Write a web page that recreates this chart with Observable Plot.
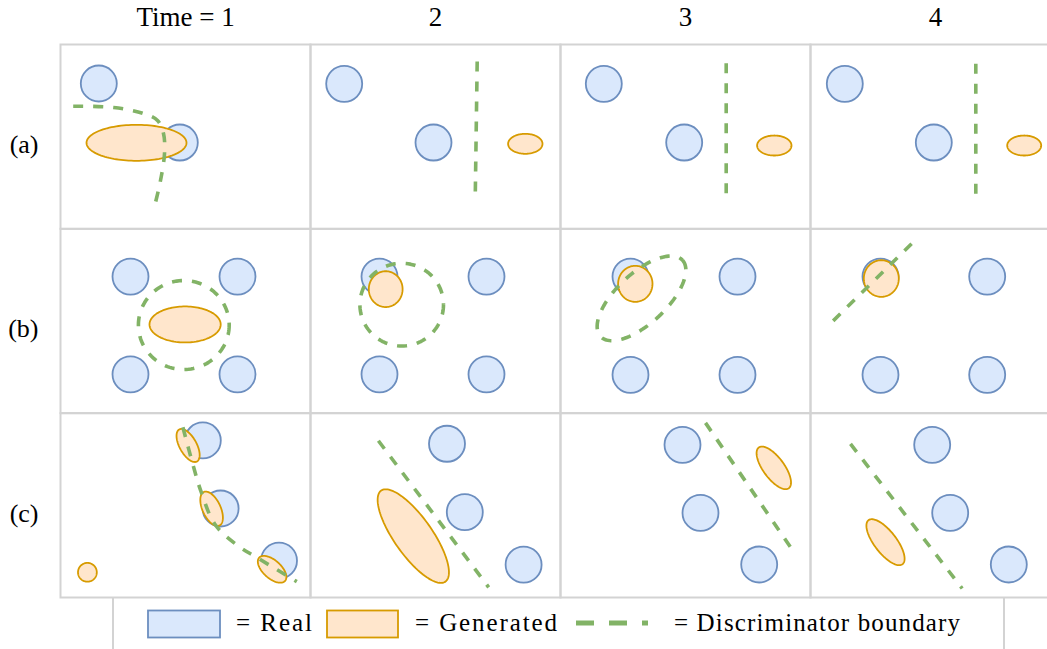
<!DOCTYPE html>
<html>
<head>
<meta charset="utf-8">
<script src="https://cdn.jsdelivr.net/npm/d3@7"></script>
<script src="https://cdn.jsdelivr.net/npm/@observablehq/plot@0.6"></script>
<style>
  html, body { margin: 0; padding: 0; background: #fff; overflow: hidden; }
  #wrap { position: relative; width: 1047px; height: 649px; overflow: hidden; background: #fff; }
  #chart { position: absolute; left: 0; top: 0; }
  #legend { position: absolute; left: 0; top: 0; }
  #legend text { font-family: "Liberation Serif", "DejaVu Serif", serif; }
</style>
</head>
<body>
<div id="wrap">
  <div id="chart"></div>
  <svg id="legend" width="1047" height="649" style="pointer-events:none">
    <line x1="113" y1="598" x2="113" y2="649" stroke="#d3d3d3" stroke-width="2"/>
    <line x1="1004" y1="598" x2="1004" y2="649" stroke="#d3d3d3" stroke-width="2"/>
    <rect x="148" y="610.5" width="72" height="27" fill="#dae8fc" stroke="#6c8ebf" stroke-width="1.8"/>
    <text x="236" y="631" font-size="25" fill="#000" textLength="76" lengthAdjust="spacing">= Real</text>
    <rect x="327" y="610.5" width="71" height="27" fill="#ffe6cc" stroke="#d79b00" stroke-width="1.8"/>
    <text x="415" y="631" font-size="25" fill="#000" textLength="142" lengthAdjust="spacing">= Generated</text>
    <line x1="576" y1="623" x2="648" y2="623" stroke="#82b366" stroke-width="5" stroke-dasharray="18 15"/>
    <text x="674" y="631" font-size="25" fill="#000" textLength="286" lengthAdjust="spacing">= Discriminator boundary</text>
  </svg>
</div>
<script>
// ---- facets ----
const rows = ["a", "b", "c"];
const times = [1, 2, 3, 4];
const timeLabels = ["Time = 1", "2", "3", "4"];
const rowLabels = ["(a)", "(b)", "(c)"];

// ---- real samples: circle centres (panel units, 25 across × 18.43 down) ----
const real = [
  {row: "a", time: 1, x: 3.83, y: 3.90}, {row: "a", time: 1, x: 11.93, y: 9.80},
  {row: "a", time: 2, x: 3.37, y: 3.93}, {row: "a", time: 2, x: 12.30, y: 9.80},
  {row: "a", time: 3, x: 4.33, y: 3.93}, {row: "a", time: 3, x: 12.37, y: 9.80},
  {row: "a", time: 4, x: 3.43, y: 3.93}, {row: "a", time: 4, x: 12.33, y: 9.80},
  {row: "b", time: 1, x: 7.0, y: 4.77}, {row: "b", time: 1, x: 17.7, y: 4.77},
  {row: "b", time: 1, x: 7.0, y: 14.55}, {row: "b", time: 1, x: 17.7, y: 14.55},
  {row: "b", time: 2, x: 6.9, y: 4.77}, {row: "b", time: 2, x: 17.6, y: 4.77},
  {row: "b", time: 2, x: 6.9, y: 14.55}, {row: "b", time: 2, x: 17.6, y: 14.55},
  {row: "b", time: 3, x: 7.0, y: 4.77}, {row: "b", time: 3, x: 17.7, y: 4.77},
  {row: "b", time: 3, x: 7.0, y: 14.6}, {row: "b", time: 3, x: 17.7, y: 14.6},
  {row: "b", time: 4, x: 7.0, y: 4.77}, {row: "b", time: 4, x: 17.67, y: 4.77},
  {row: "b", time: 4, x: 7.0, y: 14.6}, {row: "b", time: 4, x: 17.67, y: 14.6},
  {row: "c", time: 1, x: 14.23, y: 2.73}, {row: "c", time: 1, x: 16.01, y: 9.53}, {row: "c", time: 1, x: 21.85, y: 14.75},
  {row: "c", time: 2, x: 13.65, y: 3.06}, {row: "c", time: 2, x: 15.43, y: 9.90}, {row: "c", time: 2, x: 21.31, y: 15.15},
  {row: "c", time: 3, x: 12.20, y: 3.17}, {row: "c", time: 3, x: 14.00, y: 9.97}, {row: "c", time: 3, x: 19.87, y: 15.13},
  {row: "c", time: 4, x: 12.17, y: 3.17}, {row: "c", time: 4, x: 13.97, y: 9.97}, {row: "c", time: 4, x: 19.83, y: 15.13}
];

// ---- generated distributions: ellipses (centre, semi-axes, rotation in degrees) ----
const generated = [
  {row: "a", time: 1, cx: 7.60, cy: 9.83, rx: 5.00, ry: 1.80, angle: 0},
  {row: "a", time: 2, cx: 21.48, cy: 9.93, rx: 1.72, ry: 1.00, angle: 0},
  {row: "a", time: 3, cx: 21.38, cy: 10.10, rx: 1.72, ry: 1.00, angle: 0},
  {row: "a", time: 4, cx: 21.37, cy: 10.10, rx: 1.70, ry: 1.00, angle: 0},
  {row: "b", time: 1, cx: 12.46, cy: 9.56, rx: 3.56, ry: 1.80, angle: 0},
  {row: "b", time: 2, cx: 7.52, cy: 6.03, rx: 1.69, ry: 1.79, angle: 0},
  {row: "b", time: 3, cx: 7.48, cy: 5.50, rx: 1.72, ry: 1.80, angle: 0},
  {row: "b", time: 4, cx: 7.08, cy: 4.97, rx: 1.75, ry: 1.83, angle: 0},
  {row: "c", time: 1, cx: 12.76, cy: 3.23, rx: 1.83, ry: 0.85, angle: 61},
  {row: "c", time: 1, cx: 15.11, cy: 9.56, rx: 1.85, ry: 0.90, angle: 65},
  {row: "c", time: 1, cx: 21.16, cy: 15.61, rx: 1.74, ry: 0.90, angle: 42},
  {row: "c", time: 1, cx: 2.69, cy: 15.91, rx: 0.94, ry: 0.94, angle: 0},
  {row: "c", time: 2, cx: 10.28, cy: 12.29, rx: 5.57, ry: 1.90, angle: 54.8},
  {row: "c", time: 3, cx: 21.33, cy: 5.47, rx: 2.53, ry: 1.05, angle: 53.6},
  {row: "c", time: 4, cx: 7.50, cy: 12.90, rx: 2.78, ry: 1.10, angle: 52.3}
];

// ---- discriminator boundaries: open paths ----
const boundaryPaths = [
  {id: "a1", row: "a", time: 1, pts: [[1.27, 6.17], [5.3, 6.3], [8.3, 6.9], [9.7, 7.6], [10.3, 8.9], [10.4, 10.9], [10.0, 13.6], [9.3, 16.6]]},
  {id: "a2", row: "a", time: 2, pts: [[16.67, 1.70], [16.47, 15.6]]},
  {id: "a3", row: "a", time: 3, pts: [[16.57, 1.87], [16.57, 15.6]]},
  {id: "a4", row: "a", time: 4, pts: [[16.53, 1.93], [16.53, 15.7]]},
  {id: "b4", row: "b", time: 4, pts: [[2.27, 9.20], [10.33, 1.27]]},
  {id: "c1", row: "c", time: 1, pts: [[12.24, 1.41], [13.31, 5.39], [14.02, 7.74], [15.44, 11.11], [17.58, 13.13], [19.72, 14.48], [23.63, 16.84]]},
  {id: "c2", row: "c", time: 2, pts: [[6.79, 2.76], [17.82, 17.41]]},
  {id: "c3", row: "c", time: 3, pts: [[14.5, 0.97], [23.4, 13.97]]},
  {id: "c4", row: "c", time: 4, pts: [[4.0, 3.07], [15.17, 17.53]]}
];
// ---- discriminator boundaries: closed loops (ellipses) ----
const boundaryLoops = [
  {row: "b", time: 1, cx: 12.33, cy: 9.62, rx: 4.54, ry: 4.45, angle: 0},
  {row: "b", time: 2, cx: 9.12, cy: 7.58, rx: 4.18, ry: 4.14, angle: 0},
  {row: "b", time: 3, cx: 8.10, cy: 6.95, rx: 5.60, ry: 2.50, angle: -43}
];

// outline of an ellipse given its parameters
function outline(list, prefix) {
  const out = [];
  list.forEach((e, k) => {
    const phi = e.angle * Math.PI / 180, n = 120;
    for (let i = 0; i <= n; i++) {
      const t = 2 * Math.PI * i / n;
      const u = e.rx * Math.cos(t), v = e.ry * Math.sin(t);
      out.push({id: prefix + k, row: e.row, time: e.time,
        x: e.cx + u * Math.cos(phi) - v * Math.sin(phi),
        y: e.cy + u * Math.sin(phi) + v * Math.cos(phi)});
    }
  });
  return out;
}
const genPts = outline(generated, "g");
const loopPts = outline(boundaryLoops, "l");
const pathPts = boundaryPaths.flatMap(p => p.pts.map(([x, y]) => ({id: p.id, row: p.row, time: p.time, x, y})));

const green = "#82b366";
const dash = {stroke: green, strokeWidth: 3.6, strokeDasharray: "10,10", strokeLinecap: "butt"};

const chart = Plot.plot({
  width: 1060,
  height: 599,
  marginLeft: 60,
  marginRight: 0,
  marginTop: 44,
  marginBottom: 2,
  style: {fontFamily: "'Liberation Serif', 'DejaVu Serif', serif", maxWidth: "none", overflow: "visible", background: "transparent", color: "#000"},
  x: {domain: [0, 25], axis: null},
  y: {domain: [0, 18.43], reverse: true, axis: null},
  fx: {domain: times, padding: 0, round: false},
  fy: {domain: rows, padding: 0, round: false},
  marks: [
    Plot.frame({stroke: "#d3d3d3", strokeWidth: 2}),
    Plot.axisFx({anchor: "top", label: null, tickSize: 0, tickPadding: 19, fontSize: 27,
      tickFormat: d => timeLabels[times.indexOf(d)]}),
    Plot.axisFy({anchor: "left", label: null, tickSize: 0, tickPadding: 22, fontSize: 26, dy: 8,
      tickFormat: d => rowLabels[rows.indexOf(d)]}),
    Plot.dot(real, {x: "x", y: "y", fx: "time", fy: "row", r: 18, fill: "#dae8fc", stroke: "#6c8ebf", strokeWidth: 1.8}),
    Plot.line(genPts, {x: "x", y: "y", z: "id", fx: "time", fy: "row", fill: "#ffe6cc", stroke: "#d79b00", strokeWidth: 1.8}),
    Plot.line(loopPts, {x: "x", y: "y", z: "id", fx: "time", fy: "row", ...dash}),
    Plot.line(pathPts, {x: "x", y: "y", z: "id", fx: "time", fy: "row", curve: "catmull-rom", ...dash})
  ]
});
document.getElementById("chart").appendChild(chart);
</script>
</body>
</html>
